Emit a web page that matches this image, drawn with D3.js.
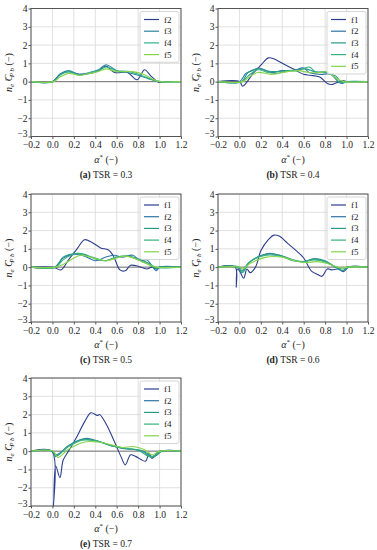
<!DOCTYPE html>
<html>
<head>
<meta charset="utf-8">
<script src="https://cdn.jsdelivr.net/npm/d3@7"></script>
<style>
  body { margin: 0; background: #fff; }
  svg text { font-family: "Liberation Serif", "DejaVu Serif", serif; fill: #222; }
</style>
</head>
<body>
<div id="chart"></div>
<script>
// x ticks and y ticks shared by all panels
var xTicks = [-0.2, 0.0, 0.2, 0.4, 0.6, 0.8, 1.0, 1.2];
var yTicks = [-3, -2, -1, 0, 1, 2, 3, 4];

// panel captions
var captions = [
  {tag: "(a)", text: " TSR = 0.3"},
  {tag: "(b)", text: " TSR = 0.4"},
  {tag: "(c)", text: " TSR = 0.5"},
  {tag: "(d)", text: " TSR = 0.6"},
  {tag: "(e)", text: " TSR = 0.7"}
];

// series names per panel
var namesA = ["f2", "f3", "f4", "f5"];
var namesB = ["f1", "f2", "f3", "f4", "f5"];

// [alpha*, value]
var tsr03 = [
  [[-0.2,0],[0,0],[0.07,0.4],[0.15,0.55],[0.25,0.4],[0.35,0.45],[0.43,0.6],[0.5,0.85],[0.58,0.5],[0.7,0.5],[0.79,0.1],[0.86,0.65],[0.92,0.3],[0.98,0],[1.0,-0.05],[1.04,0],[1.2,0]],
  [[-0.2,0],[0,0],[0.08,0.45],[0.15,0.6],[0.25,0.4],[0.35,0.5],[0.43,0.65],[0.5,0.92],[0.6,0.6],[0.7,0.5],[0.8,0.35],[0.9,0.15],[1.0,0],[1.2,0]],
  [[-0.2,0],[0.01,0],[0.07,0.35],[0.15,0.55],[0.25,0.35],[0.35,0.5],[0.43,0.6],[0.5,0.8],[0.6,0.6],[0.72,0.55],[0.85,0.3],[0.97,0.03],[1.2,0]],
  [[-0.2,0],[0.01,0],[0.07,0.25],[0.15,0.45],[0.25,0.35],[0.35,0.45],[0.43,0.55],[0.5,0.7],[0.6,0.55],[0.75,0.55],[0.85,0.4],[0.95,0.1],[1.0,0],[1.2,0]]
];
var tsr04 = [
  [[-0.2,0],[0,0],[0.03,-0.25],[0.06,-0.1],[0.12,0.4],[0.2,0.9],[0.27,1.3],[0.32,1.25],[0.4,1.0],[0.5,0.7],[0.6,0.4],[0.66,0.35],[0.75,0.25],[0.82,-0.1],[0.87,-0.15],[0.93,0],[0.97,0.05],[1.0,0],[1.2,0]],
  [[-0.2,0],[0,0],[0.06,0.45],[0.12,0.6],[0.18,0.75],[0.25,0.6],[0.3,0.5],[0.4,0.6],[0.5,0.6],[0.6,0.75],[0.65,0.5],[0.75,0.4],[0.85,0.4],[0.93,-0.05],[0.96,-0.1],[1.0,0],[1.2,0]],
  [[-0.2,0],[0.02,0],[0.08,0.5],[0.18,0.7],[0.25,0.6],[0.33,0.55],[0.45,0.6],[0.55,0.65],[0.62,0.7],[0.7,0.55],[0.8,0.5],[0.9,0.3],[0.95,-0.05],[1.0,0],[1.2,0]],
  [[-0.2,0],[0.02,0],[0.08,0.3],[0.17,0.65],[0.27,0.5],[0.35,0.45],[0.45,0.6],[0.55,0.6],[0.65,0.8],[0.72,0.5],[0.8,0.55],[0.88,0.3],[0.94,-0.05],[1.0,0],[1.2,0]],
  [[-0.2,0],[0.03,0],[0.08,0.2],[0.17,0.5],[0.3,0.4],[0.45,0.55],[0.55,0.6],[0.65,0.5],[0.75,0.5],[0.82,0.55],[0.9,0.2],[0.97,0],[1.2,0]]
];
var tsr05 = [
  [[-0.2,0],[0,0],[0.03,-0.05],[0.08,-0.15],[0.15,0.4],[0.23,1.0],[0.3,1.5],[0.37,1.35],[0.45,1.05],[0.52,0.95],[0.57,0.6],[0.63,-0.15],[0.68,-0.2],[0.73,0.1],[0.8,0.05],[0.88,-0.1],[0.93,0],[0.97,-0.1],[1.0,0],[1.2,0]],
  [[-0.2,0],[0.02,0],[0.1,0.5],[0.2,0.7],[0.3,0.6],[0.4,0.35],[0.5,0.55],[0.58,0.65],[0.65,0.55],[0.75,0.65],[0.82,0.35],[0.88,0.4],[0.97,-0.2],[1.0,0],[1.2,0]],
  [[-0.2,0],[0.03,0],[0.1,0.55],[0.22,0.75],[0.3,0.7],[0.4,0.45],[0.5,0.35],[0.6,0.55],[0.7,0.6],[0.78,0.5],[0.87,0.3],[0.93,0.1],[0.97,-0.1],[1.0,0],[1.2,0]],
  [[-0.2,0],[0.03,0],[0.1,0.4],[0.22,0.75],[0.3,0.65],[0.4,0.5],[0.5,0.35],[0.6,0.55],[0.7,0.6],[0.78,0.45],[0.88,0.2],[0.95,0],[1.2,0]],
  [[-0.2,0],[0.03,0],[0.1,0.15],[0.2,0.5],[0.27,0.65],[0.38,0.5],[0.5,0.35],[0.6,0.5],[0.68,0.6],[0.78,0.45],[0.85,0.25],[0.9,0.15],[0.97,0],[1.2,0]]
];
var tsr06 = [
  [[-0.2,0],[-0.04,0],[-0.03,-1.1],[-0.02,-0.1],[0.0,-0.2],[0.04,-0.6],[0.07,-0.1],[0.1,-0.3],[0.15,0],[0.2,0.9],[0.27,1.5],[0.32,1.75],[0.37,1.7],[0.45,1.3],[0.53,0.9],[0.6,0.5],[0.67,-0.2],[0.73,-0.4],[0.77,-0.5],[0.82,-0.1],[0.86,-0.15],[0.92,-0.1],[0.97,-0.25],[1.02,0],[1.2,0]],
  [[-0.2,0],[-0.02,0],[0.02,-0.2],[0.08,0.2],[0.17,0.55],[0.27,0.75],[0.4,0.6],[0.52,0.35],[0.6,0.3],[0.7,0.45],[0.78,0.35],[0.88,0.05],[0.97,-0.2],[1.0,0],[1.2,0]],
  [[-0.2,0],[-0.01,0],[0.02,-0.3],[0.1,0.3],[0.25,0.7],[0.38,0.65],[0.5,0.4],[0.6,0.3],[0.7,0.45],[0.8,0.35],[0.9,0],[0.97,-0.2],[1.01,0],[1.2,0]],
  [[-0.2,0],[0,0],[0.03,-0.3],[0.1,0.3],[0.25,0.65],[0.38,0.6],[0.5,0.35],[0.6,0.3],[0.7,0.4],[0.8,0.3],[0.9,0],[0.97,-0.1],[1.01,0],[1.2,0]],
  [[-0.2,0],[0,0],[0.03,-0.1],[0.1,0.2],[0.25,0.55],[0.4,0.55],[0.52,0.35],[0.62,0.25],[0.72,0.3],[0.82,0.2],[0.92,0],[0.97,-0.05],[1.0,0],[1.2,0]]
];
var tsr07 = [
  [[-0.2,0],[-0.005,0],[0.01,-3],[0.03,-0.8],[0.07,-1.45],[0.1,-0.5],[0.15,0],[0.22,0.7],[0.3,1.6],[0.36,2.1],[0.42,1.95],[0.44,2.0],[0.5,1.5],[0.58,0.5],[0.64,-0.3],[0.68,-0.75],[0.73,-0.2],[0.78,-0.3],[0.87,-0.55],[0.9,-0.1],[0.93,-0.4],[0.97,-0.15],[1.0,0],[1.2,0]],
  [[-0.2,0],[0,0],[0.03,-0.2],[0.07,-0.1],[0.15,0.3],[0.25,0.6],[0.32,0.7],[0.42,0.55],[0.55,0.3],[0.65,0.15],[0.75,0.1],[0.85,0],[0.93,-0.3],[0.98,-0.2],[1.02,0],[1.2,0]],
  [[-0.2,0],[0,0],[0.03,-0.3],[0.15,0.3],[0.28,0.65],[0.42,0.55],[0.55,0.3],[0.68,0.15],[0.8,0.05],[0.93,-0.35],[1.02,0],[1.2,0]],
  [[-0.2,0],[0,0],[0.04,-0.25],[0.15,0.25],[0.28,0.6],[0.42,0.55],[0.55,0.3],[0.68,0.15],[0.82,0.05],[0.92,-0.3],[1.02,0],[1.2,0]],
  [[-0.2,0],[0.01,0],[0.05,-0.35],[0.15,0.1],[0.3,0.5],[0.42,0.5],[0.55,0.35],[0.65,0.2],[0.75,0.25],[0.85,0.1],[0.93,-0.2],[1.0,0],[1.2,0]]
];

var coloursB = ["#2b3f8f", "#2e74a6", "#28998c", "#34b27a", "#85d54a"];
var coloursA = ["#2b3f8f", "#2b85a0", "#2fb389", "#85d54a"];

var panels = [
  {data: tsr03, names: namesA, colours: coloursA, left: 31, top: 8.5},
  {data: tsr04, names: namesB, colours: coloursB, left: 218, top: 8.5},
  {data: tsr05, names: namesB, colours: coloursB, left: 31, top: 194},
  {data: tsr06, names: namesB, colours: coloursB, left: 218, top: 194},
  {data: tsr07, names: namesB, colours: coloursB, left: 31, top: 378}
];

var width = 150, height = 128;

var svg = d3.select("#chart").append("svg")
  .attr("width", 377)
  .attr("height", 550);

var x = d3.scaleLinear().domain([-0.2, 1.2]).range([0, width]);
var y = d3.scaleLinear().domain([-3, 4]).range([height, 0]);

var line = d3.line()
  .x(d => x(d[0]))
  .y(d => y(d[1]))
  .curve(d3.curveCatmullRom.alpha(0.5));

function fmt(v){
  return (v < 0 ? "\u2212" : "") + Math.abs(v).toFixed(1);
}

panels.forEach(function(p, i){
  var g = svg.append("g").attr("transform", `translate(${p.left},${p.top})`);

  // grid
  g.selectAll(".gx").data(xTicks).enter().append("line")
    .attr("x1", d => x(d)).attr("x2", d => x(d))
    .attr("y1", 0).attr("y2", height)
    .attr("stroke", "#d8d8d8").attr("stroke-width", 0.8);
  g.selectAll(".gy").data(yTicks).enter().append("line")
    .attr("x1", 0).attr("x2", width)
    .attr("y1", d => y(d)).attr("y2", d => y(d))
    .attr("stroke", "#d8d8d8").attr("stroke-width", 0.8);

  // zero line
  g.append("line")
    .attr("x1", 0).attr("x2", width)
    .attr("y1", y(0)).attr("y2", y(0))
    .attr("stroke", "#555").attr("stroke-width", 0.8);

  // axes
  var xAxis = g.append("g").attr("transform", `translate(0,${height})`)
    .call(d3.axisBottom(x).tickValues(xTicks).tickFormat(fmt).tickSize(2.5).tickSizeOuter(0));
  var yAxis = g.append("g")
    .call(d3.axisLeft(y).tickValues(yTicks).tickFormat(d => d < 0 ? "\u2212" + Math.abs(d) : d).tickSize(2.5).tickSizeOuter(0));
  [xAxis, yAxis].forEach(function(a){
    a.select(".domain").remove();
    a.selectAll("line").attr("stroke", "#555");
    a.selectAll("text").style("font-size", "9.5px").attr("fill", "#222")
      .style("font-family", "'Liberation Serif', serif");
  });
  yAxis.selectAll("text").attr("x", -3.5);
  // bottom y label sits just above the corner, as in the original
  yAxis.selectAll("text").filter(d => d === -3).attr("dy", "0.05em");
  xAxis.selectAll("text").attr("y", 5);

  // lines
  p.data.forEach(function(s, k){
    g.append("path")
      .attr("d", line(s))
      .attr("fill", "none")
      .attr("stroke", p.colours[k])
      .attr("stroke-width", 1.1);
  });

  // frame
  g.append("rect")
    .attr("width", width).attr("height", height)
    .attr("fill", "none").attr("stroke", "#555").attr("stroke-width", 1);

  // legend
  var n = p.names.length;
  var lg = g.append("g").attr("transform", `translate(${width - 41},3)`);
  lg.append("rect")
    .attr("width", 39).attr("height", 11.7 * n + 4)
    .attr("rx", 2)
    .attr("fill", "white").attr("fill-opacity", 0.85)
    .attr("stroke", "#ccc").attr("stroke-width", 0.8);
  p.names.forEach(function(nm, k){
    var yy = 8 + k * 11.7;
    lg.append("line")
      .attr("x1", 4).attr("x2", 19)
      .attr("y1", yy).attr("y2", yy)
      .attr("stroke", p.colours[k]).attr("stroke-width", 1.2);
    lg.append("text")
      .attr("x", 24).attr("y", yy + 3)
      .style("font-size", "9px")
      .attr("fill", "#333")
      .text(nm);
  });

  // x label
  var xl = g.append("text")
    .attr("x", width / 2).attr("y", height + 26)
    .attr("text-anchor", "middle")
    .style("font-size", "10px");
  xl.append("tspan").style("font-style", "italic").text("\u03b1");
  xl.append("tspan").attr("dy", -4).style("font-size", "7px").text("*");
  xl.append("tspan").attr("dy", 4).text(" (\u2212)");

  // y label (tilde drawn as its own small glyph over the C)
  var yl = g.append("text")
    .attr("transform", `translate(-19,${height / 2}) rotate(-90)`)
    .attr("text-anchor", "middle")
    .style("font-size", "10px");
  yl.append("tspan").style("font-style", "italic").text("n");
  yl.append("tspan").attr("dy", 2).style("font-size", "7px").style("font-style", "italic").text("e");
  yl.append("tspan").attr("dy", -2).style("font-style", "italic").text(" C");
  yl.append("tspan").attr("dx", -6.5).attr("dy", -4.5).style("font-size", "7px").text("~");
  yl.append("tspan").attr("dx", 0).attr("dy", 6.5).style("font-size", "7px").style("font-style", "italic").text("P b");
  yl.append("tspan").attr("dy", -2).text(" (\u2212)");

  // caption
  var cap = g.append("text")
    .attr("x", width / 2).attr("y", height + 41)
    .attr("text-anchor", "middle")
    .style("font-size", "9.5px");
  cap.append("tspan").style("font-weight", "bold").text(captions[i].tag);
  cap.append("tspan").text(captions[i].text);
});
</script>
</body>
</html>
